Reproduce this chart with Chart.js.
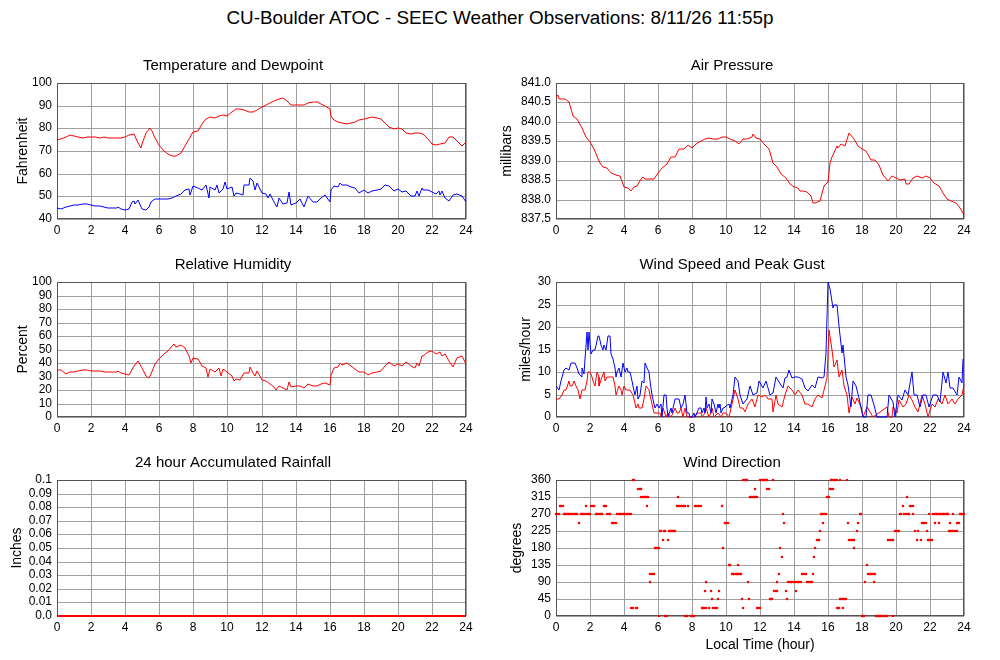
<!DOCTYPE html>
<html>
<head>
<meta charset="utf-8">
<script src="https://cdn.jsdelivr.net/npm/chart.js@4.4.1/dist/chart.umd.min.js"></script>
<style>
  body { margin: 0; background: #fff; }
  #page { position: relative; width: 1000px; height: 660px; font-family: "Liberation Sans", Arial, Helvetica, sans-serif; }
  #main-title { position: absolute; left: 0; top: 7px; width: 1000px; text-align: center; font-size: 18.85px; line-height: 22px; color: #000; }
  .panel { position: absolute; width: 500px; }
</style>
</head>
<body>
<div id="page">
  <div id="main-title">CU-Boulder ATOC - SEEC Weather Observations: 8/11/26 11:55p</div>
  <div class="panel" style="left:0;top:53px;height:192px;"><canvas id="c-temp"></canvas></div>
  <div class="panel" style="left:500px;top:53px;height:192px;"><canvas id="c-pres"></canvas></div>
  <div class="panel" style="left:0;top:252px;height:191px;"><canvas id="c-rh"></canvas></div>
  <div class="panel" style="left:500px;top:252px;height:191px;"><canvas id="c-wind"></canvas></div>
  <div class="panel" style="left:0;top:450px;height:192px;"><canvas id="c-rain"></canvas></div>
  <div class="panel" style="left:500px;top:450px;height:210px;"><canvas id="c-dir"></canvas></div>
</div>

<script>
/* ── 資料（時間：小時，讀自原圖）────────────────────────── */
const hourTicks = [0, 2, 4, 6, 8, 10, 12, 14, 16, 18, 20, 22, 24];

const tempTicks = [40, 50, 60, 70, 80, 90, 100];
const presTicks = [837.5, 838, 838.5, 839, 839.5, 840, 840.5, 841];
const rhTicks   = [0, 10, 20, 30, 40, 50, 60, 70, 80, 90, 100];
const windTicks = [0, 5, 10, 15, 20, 25, 30];
const rainTicks = [0, 0.01, 0.02, 0.03, 0.04, 0.05, 0.06, 0.07, 0.08, 0.09, 0.1];
const dirTicks  = [0, 45, 90, 135, 180, 225, 270, 315, 360];

// 溫度 [hour, °F]
const temperature = [[0,74.7],[0.25,75.1],[0.5,76.3],[0.75,76.9],[1,76.6],[1.25,76.1],[1.5,75.9],[1.75,76.1],[2,76.3],[2.25,76.1],[2.5,75.7],[2.75,76],[3,75.9],[3.25,75.7],[3.5,75.6],[3.75,75.6],[4,76],[4.25,76.9],[4.5,77.3],[4.75,73.6],[4.9,71.4],[5,72.9],[5.25,78],[5.45,80.1],[5.6,78.8],[5.75,75.9],[6,72.6],[6.25,70.2],[6.5,68.7],[6.75,67.7],[7,67.7],[7.25,68.9],[7.5,72.1],[7.75,75.4],[8,78.4],[8.25,78.8],[8.5,81.8],[8.75,84],[9,85],[9.25,84.7],[9.5,85.5],[9.75,85.9],[10,85.3],[10.25,87.3],[10.5,88.7],[10.75,88.4],[11,88],[11.25,87.4],[11.5,87.3],[11.75,88],[12,89.2],[12.25,90.2],[12.5,91.1],[12.75,92.1],[13,92.9],[13.25,93.2],[13.5,92.1],[13.75,90.2],[14,90.5],[14.25,90.5],[14.5,90.5],[14.75,91],[15,91.6],[15.25,91.4],[15.5,90.7],[15.75,89.9],[16,88.7],[16.1,85.5],[16.25,83.7],[16.5,82.8],[16.75,82.2],[17,81.9],[17.25,82.2],[17.5,82.8],[17.75,83.7],[18,84.3],[18.25,84.4],[18.5,85],[18.75,84.7],[19,84],[19.25,82.5],[19.5,80.7],[19.75,79.9],[20,80.3],[20.25,79.6],[20.5,78.1],[20.75,77.3],[21,78.1],[21.25,77.8],[21.5,77.6],[21.75,75.1],[22,72.9],[22.25,72.6],[22.5,73.3],[22.75,73.6],[23,76],[23.25,76.3],[23.5,74.4],[23.75,72.1],[24,73.9]];

// 露點 [hour, °F]
const dewpoint = [[0,44.7],[0.25,44.3],[0.5,45.2],[0.75,45.8],[1,46],[1.25,46.1],[1.5,46.5],[1.75,46.5],[2,46.1],[2.25,45.8],[2.5,45.6],[2.75,45.2],[3,44.9],[3.25,44.7],[3.5,44.9],[3.6,45.5],[3.75,44.4],[4,43.9],[4.25,44.3],[4.4,47.7],[4.5,48.1],[4.6,46.5],[4.75,48.4],[5,44.3],[5.25,44],[5.4,45.5],[5.5,47.7],[5.75,48.8],[6,48.8],[6.25,49],[6.5,48.7],[6.75,49.4],[7,50],[7.25,51.2],[7.5,52.7],[7.75,53.3],[7.8,50.8],[8,54.4],[8.25,53.7],[8.5,53],[8.75,54.8],[8.9,49.3],[9,54.1],[9.25,53],[9.4,55.2],[9.5,51.5],[9.75,53.3],[9.85,56.3],[10,53.3],[10.25,53.9],[10.4,50],[10.5,51.5],[10.75,51.2],[10.9,50.8],[11,54.8],[11.25,55.2],[11.35,58.1],[11.5,56.6],[11.6,53],[11.75,55.9],[12,51.5],[12.25,51.2],[12.4,49.3],[12.5,51.2],[12.75,47.7],[12.9,45.5],[13,49.3],[13.25,46.7],[13.5,47],[13.6,51.7],[13.75,46.2],[14,47],[14.25,48.8],[14.5,45.5],[14.75,50],[15,47.3],[15.25,47.7],[15.5,49.3],[15.75,50.4],[16,47.7],[16.1,53],[16.25,54.4],[16.5,54.1],[16.6,55.9],[16.75,54.8],[17,55.2],[17.25,54.1],[17.5,53.7],[17.75,51.5],[18,52.6],[18.25,51.5],[18.5,52.3],[18.75,53],[19,53.3],[19.25,54.8],[19.5,54.4],[19.75,52.2],[20,53.3],[20.25,51.8],[20.5,52.3],[20.75,50],[21,50],[21.1,52.2],[21.25,50],[21.4,53.7],[21.5,53],[21.75,52.7],[22,51.8],[22.25,51.2],[22.4,52.3],[22.5,50.5],[22.6,52.2],[22.75,49.3],[23,48.1],[23.25,50.5],[23.5,51.2],[23.75,50],[24,47.7]];

// 氣壓 [hour, mb]
const pressure = [[0,840.63],[0.1,840.69],[0.2,840.6],[0.5,840.6],[0.75,840.5],[1,840.15],[1.25,840.07],[1.5,839.85],[1.75,839.62],[2,839.47],[2.25,839.31],[2.5,839.0],[2.6,838.95],[2.75,838.84],[3,838.82],[3.25,838.69],[3.5,838.62],[3.75,838.6],[4,838.33],[4.25,838.3],[4.4,838.22],[4.6,838.33],[4.75,838.36],[5,838.52],[5.1,838.59],[5.25,838.52],[5.5,838.52],[5.75,838.52],[6,838.69],[6.25,838.82],[6.5,838.92],[6.75,839.09],[7,839.1],[7.25,839.29],[7.5,839.31],[7.75,839.41],[8,839.34],[8.25,839.42],[8.5,839.51],[8.75,839.55],[9,839.59],[9.25,839.57],[9.5,839.57],[9.75,839.61],[10,839.61],[10.25,839.55],[10.5,839.51],[10.75,839.44],[11,839.57],[11.25,839.55],[11.5,839.62],[11.6,839.68],[11.75,839.59],[12,839.57],[12.25,839.42],[12.5,839.29],[12.75,838.95],[13,838.84],[13.25,838.65],[13.5,838.56],[13.75,838.41],[14,838.33],[14.25,838.3],[14.35,838.22],[14.5,838.22],[14.75,838.19],[15,838.09],[15.1,837.91],[15.25,837.91],[15.5,837.96],[15.75,838.34],[16,838.45],[16.1,838.95],[16.25,839.1],[16.5,839.38],[16.6,839.33],[16.75,839.42],[17,839.38],[17.25,839.71],[17.5,839.55],[17.75,839.38],[18,839.31],[18.25,839.25],[18.5,839.03],[18.75,839.01],[19,838.9],[19.25,838.62],[19.5,838.47],[19.75,838.6],[20,838.56],[20.25,838.5],[20.5,838.52],[20.6,838.41],[20.75,838.41],[21,838.56],[21.25,838.6],[21.5,838.56],[21.75,838.6],[22,838.56],[22.25,838.43],[22.5,838.34],[22.75,838.17],[23,838.02],[23.25,837.96],[23.5,837.9],[23.75,837.78],[24,837.61]];

// 相對濕度 [hour, %]
const humidity = [[0,34.7],[0.25,34.7],[0.5,32.2],[0.75,33.2],[1,33.4],[1.25,33.9],[1.5,34.7],[1.75,34.7],[2,34.2],[2.25,34.2],[2.5,34.2],[2.75,33.4],[3,33.4],[3.25,33.4],[3.5,33.4],[3.6,34.2],[3.75,32.7],[4,31.7],[4.25,31.2],[4.5,37.6],[4.75,41.8],[5,36.4],[5.25,30.7],[5.4,29],[5.5,31.9],[5.75,38.9],[6,42.6],[6.25,46.3],[6.5,48.8],[6.75,52.5],[6.85,54.2],[7,52],[7.25,53.7],[7.5,51.2],[7.75,45.5],[7.85,40.1],[8,43.8],[8.25,42.6],[8.5,37.6],[8.75,36.4],[8.85,29.7],[9,35.6],[9.25,33.2],[9.5,36.4],[9.6,30.7],[9.75,35.6],[10,33.2],[10.25,30.2],[10.4,26.5],[10.5,28.2],[10.75,27.7],[11,32.7],[11.25,32.7],[11.35,37.1],[11.5,32.7],[11.6,30.2],[11.75,33.9],[12,27.7],[12.25,27],[12.5,24.8],[12.75,22.3],[12.85,19.8],[13,22.8],[13.25,21.5],[13.5,20.3],[13.6,25.7],[13.75,22.3],[14,22.8],[14.25,23.3],[14.5,21.8],[14.75,24.8],[15,22.8],[15.25,23.3],[15.5,24.8],[15.75,25.2],[16,24],[16.1,31.4],[16.25,36.4],[16.5,37.1],[16.6,40.1],[16.75,38.6],[17,40.1],[17.25,37.6],[17.5,35.9],[17.75,33.2],[18,33.2],[18.25,31.4],[18.5,32.7],[18.75,33.2],[19,33.9],[19.25,37.6],[19.5,40.6],[19.75,38.1],[20,39.4],[20.25,37.6],[20.5,40.6],[20.75,37.6],[21,36.4],[21.1,40.1],[21.25,38.1],[21.4,45],[21.5,45.5],[21.75,48],[22,48.8],[22.25,46.3],[22.5,48],[22.6,45],[22.75,47],[23,41.3],[23.25,37.1],[23.5,43.8],[23.75,45.5],[24,39.6]];

// 風速 [hour, mph]
const windSpeed = [[0,4],[0.2,4],[0.35,5],[0.45,6],[0.6,6],[0.75,8],[0.85,7],[0.95,7],[1.05,8],[1.15,7],[1.3,6],[1.4,4],[1.5,6],[1.7,6],[1.8,8],[1.9,10],[2.0,10],[2.1,9],[2.2,8],[2.3,7],[2.4,10],[2.5,9],[2.55,7],[2.7,9],[2.8,10],[2.9,8],[3.0,9],[3.1,9],[3.25,9],[3.35,9],[3.45,7],[3.55,5],[3.7,7],[3.8,6],[3.9,5],[4.0,7],[4.1,6],[4.25,6],[4.35,6],[4.5,5],[4.6,4],[4.7,2],[4.8,3],[4.9,2],[5.05,2],[5.15,4],[5.3,7],[5.45,6],[5.55,5],[5.65,3],[5.75,1],[5.85,1],[6.0,1],[6.1,1],[6.2,0],[6.3,2],[6.45,0],[6.6,1],[6.75,0],[6.9,1],[7.0,2],[7.1,1],[7.25,1],[7.35,2],[7.45,0],[7.6,2],[7.7,0],[8.0,0],[8.2,0],[8.3,1],[8.5,1],[8.6,0],[8.75,1],[8.85,2],[9.0,0],[9.1,1],[9.2,2],[9.3,0],[9.5,1],[9.7,0],[9.85,1],[10.0,1],[10.2,0],[10.35,3],[10.55,6],[10.7,4],[10.85,2],[11.02,1.9],[11.12,1.2],[11.31,3],[11.51,4],[11.71,2.3],[11.9,5],[12.1,4.5],[12.29,5],[12.49,4],[12.69,4],[12.78,1.2],[12.94,5],[13.08,3],[13.27,2.3],[13.47,5],[13.67,6.9],[13.86,6],[14.06,5],[14.25,5.9],[14.45,5],[14.65,3],[14.84,3],[15.04,2.3],[15.24,4],[15.43,5],[15.63,4.2],[15.82,6.8],[15.92,8.6],[16.08,19.3],[16.22,15],[16.37,11.2],[16.51,12.7],[16.67,9],[16.8,10.5],[16.94,6.8],[17.1,5],[17.25,0.8],[17.39,4.5],[17.59,3],[17.73,4.2],[17.92,2.3],[18.08,0],[18.27,2.3],[18.47,1.2],[18.67,0],[19.45,2.3],[19.61,0],[19.75,0],[19.84,2.3],[20.04,0.8],[20.2,3.8],[20.39,2.3],[20.59,3],[20.78,5],[20.92,3.8],[21.12,2.3],[21.31,1.2],[21.51,5],[21.71,3],[21.9,0],[22.1,3],[22.29,2.3],[22.49,4],[22.69,3],[22.88,5],[23.08,3],[23.27,4],[23.47,3],[23.67,4],[23.86,5],[24,7.1]];

// 陣風 [hour, mph]
const peakGust = [[0,7],[0.15,6],[0.3,8],[0.45,10.5],[0.6,11],[0.75,10.5],[0.9,12],[1.1,12],[1.25,11],[1.35,9.5],[1.5,9],[1.55,11],[1.65,9.5],[1.7,13],[1.8,19],[1.88,15],[1.95,19],[2.05,14],[2.15,15],[2.3,15],[2.45,18],[2.55,18],[2.65,16],[2.75,15],[2.85,16],[2.95,15],[3.05,18],[3.15,18],[3.25,14],[3.35,13],[3.45,11],[3.5,9],[3.6,10],[3.7,11],[3.8,9],[3.95,12],[4.05,10],[4.15,11],[4.25,10],[4.35,10],[4.45,8],[4.55,7],[4.65,5],[4.75,7],[4.85,4],[4.95,5],[5.05,8],[5.15,7.5],[5.25,12],[5.35,11],[5.45,10],[5.55,8],[5.65,5],[5.75,3],[5.85,2],[5.95,3],[6.05,2],[6.15,3],[6.25,0],[6.35,5],[6.45,5],[6.55,2],[6.6,0],[6.75,2],[6.85,1],[7.0,4],[7.1,4],[7.25,4],[7.35,2],[7.45,3],[7.6,5],[7.7,1],[7.8,1],[7.9,0],[8.0,0],[8.1,1],[8.2,0],[8.4,2],[8.5,2],[8.6,1],[8.7,2],[8.75,1],[8.85,4.5],[8.9,2],[9.0,3],[9.1,1],[9.2,4],[9.3,3],[9.4,1],[9.5,3],[9.6,2],[9.65,3],[9.7,1],[9.8,2],[9.9,2],[10.0,2.5],[10.15,3],[10.25,2],[10.4,5],[10.55,9],[10.7,8],[10.85,5],[11.02,3],[11.22,4],[11.41,7],[11.61,5],[11.8,5.3],[11.96,8],[12.16,6.4],[12.35,8],[12.59,5],[12.78,5.3],[12.94,9],[13.14,7.7],[13.33,6.4],[13.47,8.6],[13.57,9],[13.73,10.4],[13.86,8.6],[14.06,9],[14.25,9],[14.45,8.4],[14.65,6.4],[14.84,5.7],[15.04,7.1],[15.24,6.4],[15.43,9],[15.63,8.6],[15.76,9],[15.88,14.2],[16.02,30],[16.12,28.4],[16.27,24.3],[16.37,25],[16.51,25],[16.67,20.2],[16.8,14.2],[16.9,16.1],[17.04,9],[17.2,7.1],[17.35,2.3],[17.49,7.9],[17.65,6.8],[17.84,4.2],[18.04,0],[18.24,0],[18.33,5],[18.51,5],[18.71,2.7],[18.86,0],[19.45,0],[19.61,5],[19.8,3.4],[19.94,0],[20.14,5],[20.33,3.8],[20.53,6],[20.73,5],[20.92,10],[21.06,5],[21.22,5],[21.41,2.3],[21.57,5],[21.76,5],[21.96,2.3],[22.16,5],[22.39,5],[22.59,3.4],[22.75,10],[22.92,7.5],[23.04,10],[23.18,6.4],[23.37,6.4],[23.57,5],[23.73,9],[23.86,7.5],[23.96,13]];

// 累積雨量 [hour, inches]
const rainfall = [[0,0],[6,0],[12,0],[18,0],[24,0]];

// 風向：各方位出現的時間點（小時）
const dirDegrees = [0, 22.5, 45, 67.5, 90, 112.5, 135, 157.5, 180, 202.5, 225, 247.5, 270, 292.5, 315, 337.5, 360];
const dir000 = [6.06,6.42,6.5,7.6,7.68,7.92,8.0,8.08,8.14,17.98,18.06,18.12,18.82,18.9,18.98,19.06,19.14,19.22,19.3,19.38,19.46,19.84];
const dir022 = [4.42,4.5,4.68,4.76,8.57,8.65,8.73,8.81,9.0,9.25,9.33,9.41,9.49,11.02,11.84,11.92,12.0,16.51,16.59,16.67,16.86];
const dir045 = [9.2,9.5,10.96,11.35,12.59,12.67,12.73,13.61,16.71,16.79,16.87,16.95,17.04];
const dir067 = [8.76,9.1,9.59,12.84,12.92,13.0,13.53,14.1];
const dir090 = [5.53,8.82,11.27,13.02,13.67,13.75,13.83,13.91,13.99,14.07,14.15,14.23,14.31,14.39,14.77,14.85,14.93,15.01,15.08,18.18,18.71];
const dir112 = [5.55,5.63,5.71,5.79,10.33,10.41,10.49,10.57,10.65,10.73,10.81,10.88,13.12,14.47,14.55,14.63,14.71,15.1,18.37,18.45,18.53,18.61,18.69,18.77];
const dir135 = [10.18,10.26,10.69,18.27];
const dir157 = [13.27,15.18];
const dir180 = [5.8,5.88,5.96,6.04,9.84,13.18,15.24,17.53];
const dir202 = [6.27,6.6,15.33,15.41,15.49,17.24,17.32,17.4,17.48,17.55,19.55,19.63,19.71,19.8,21.22,21.45,21.86,21.94,22.02,22.14];
const dir225 = [6.12,6.2,6.36,6.44,6.62,6.7,6.78,6.86,6.94,7.02,15.53,17.69,19.94,20.02,20.1,20.18,21.12,21.31,21.8,23.12,23.2,23.28,23.36,23.45,23.57];
const dir247 = [1.37,3.27,3.35,3.43,3.51,9.94,10.02,10.1,13.43,15.69,17.2,17.78,21.51,21.59,21.67,21.76,22.29,22.55,23.18,23.6,23.68];
const dir270 = [0,0.08,0.16,0.45,0.53,0.61,0.69,0.77,0.85,0.93,1.01,1.09,1.17,1.25,1.45,1.53,1.61,1.69,1.85,1.93,2.01,2.33,2.41,2.49,2.57,2.65,2.73,3.01,3.09,3.17,3.6,3.68,3.76,3.84,3.92,4.0,4.08,4.16,4.24,4.32,4.4,13.37,15.57,15.65,15.73,15.81,15.9,17.88,17.96,20.24,20.32,20.45,20.6,20.68,20.76,21.02,21.94,22.2,22.28,22.36,22.44,22.52,22.6,22.68,22.76,22.84,22.92,23.0,23.08,23.37,23.76,23.84,23.92,24.0];
const dir292 = [0.24,0.32,0.4,1.76,2.08,2.16,2.24,2.8,2.88,2.96,5.35,7.1,7.18,7.26,7.34,7.42,7.5,7.58,7.78,8.18,8.26,8.34,8.42,8.5,9.75,20.43,20.82,20.9,20.98];
const dir315 = [5.02,5.1,5.18,5.26,5.33,5.43,7.2,11.4,11.48,11.56,11.64,11.72,11.8,15.92,16.0,16.08,20.63];
const dir337 = [4.84,4.92,5.0,11.7,12.43,12.51,16.12,16.2,16.3];
const dir360 = [4.53,4.61,11.02,11.1,11.18,11.26,12.0,12.08,12.16,12.24,12.32,12.4,12.79,16.18,16.26,16.34,16.42,16.5,16.7,17.1];
const dirHours = [dir000, dir022, dir045, dir067, dir090, dir112, dir135, dir157, dir180, dir202, dir225, dir247, dir270, dir292, dir315, dir337, dir360];

/* ── 樣式 ─────────────────────────────────────────────── */
const FONT = '"Liberation Sans", Arial, Helvetica, sans-serif';
const RED  = '#ff0000';
const BLUE = '#0000ff';
const GRID = '#a0a0a0';

Chart.defaults.font.family = FONT;
Chart.defaults.color = '#000';

/* 繪圖區外框 */
const framePlugin = {
  id: 'frame',
  beforeDatasetsDraw(chart) {
    const a = chart.chartArea;
    const ctx = chart.ctx;
    ctx.save();
    ctx.strokeStyle = '#555';
    ctx.lineWidth = 1;
    const l = Math.round(a.left) + 0.5, t = Math.round(a.top) + 0.5;
    const r = Math.round(a.right) - 0.5, b = Math.round(a.bottom) - 0.5;
    ctx.strokeRect(l, t, r - l, b - t);
    ctx.restore();
  }
};

function pts(list) {
  return list.map(p => ({ x: p[0], y: p[1] }));
}

function lineSet(list, color) {
  return {
    data: pts(list),
    borderColor: color,
    backgroundColor: color,
    borderWidth: 1,
    pointRadius: 0,
    tension: 0,
    clip: false
  };
}

/* 建立單一面板 */
function panel(id, cfg) {
  const right = cfg.col === 1;
  const yTicks = cfg.yTicks;
  return new Chart(document.getElementById(id), {
    type: cfg.type || 'line',
    data: { datasets: cfg.datasets },
    options: {
      responsive: true,
      maintainAspectRatio: false,
      animation: false,
      events: [],
      layout: { padding: { left: 0, right: right ? 36 : 34, top: 0, bottom: cfg.xTitle ? 3 : 4 } },
      plugins: {
        legend: { display: false },
        tooltip: { enabled: false },
        title: {
          display: true,
          text: cfg.title,
          color: '#000',
          font: { size: 15, weight: 'normal' },
          padding: { top: 4, bottom: 8 }
        }
      },
      scales: {
        x: {
          type: 'linear', min: 0, max: 24, alignToPixels: true,
          grid: { color: GRID, drawTicks: false },
          border: { display: false },
          ticks: { font: { size: 12 }, padding: 4, maxRotation: 0, autoSkip: false },
          afterBuildTicks: s => { s.ticks = hourTicks.map(v => ({ value: v })); },
          title: cfg.xTitle
            ? { display: true, text: cfg.xTitle, font: { size: 14, lineHeight: 1 }, padding: { top: 0, bottom: 5 } }
            : { display: false },
          afterFit: s => { s.height = cfg.xTitle ? 41 : 22; }
        },
        y: {
          type: 'linear', min: yTicks[0], max: yTicks[yTicks.length - 1], alignToPixels: true,
          grid: { color: GRID, drawTicks: false },
          border: { display: false },
          ticks: { font: { size: 12 }, padding: 5, autoSkip: false, callback: cfg.fmt || (v => String(v)) },
          afterBuildTicks: s => { s.ticks = yTicks.map(v => ({ value: v })); },
          title: {
            display: true, text: cfg.yTitle,
            font: { size: 14, lineHeight: 1 },
            padding: { top: cfg.yPad, bottom: 0 }
          },
          afterFit: s => { s.width = right ? 56 : 57; }
        }
      }
    },
    plugins: [framePlugin]
  });
}

/* ── 六個面板 ─────────────────────────────────────────── */
panel('c-temp', {
  col: 0, title: 'Temperature and Dewpoint', yTitle: 'Fahrenheit', yPad: 16,
  yTicks: tempTicks,
  datasets: [lineSet(temperature, RED), lineSet(dewpoint, BLUE)]
});

panel('c-pres', {
  col: 1, title: 'Air Pressure', yTitle: 'millibars', yPad: 0,
  yTicks: presTicks, fmt: v => v.toFixed(1),
  datasets: [lineSet(pressure, RED)]
});

panel('c-rh', {
  col: 0, title: 'Relative Humidity', yTitle: 'Percent', yPad: 16,
  yTicks: rhTicks,
  datasets: [lineSet(humidity, RED)]
});

panel('c-wind', {
  col: 1, title: 'Wind Speed and Peak Gust', yTitle: 'miles/hour', yPad: 19,
  yTicks: windTicks,
  datasets: [lineSet(peakGust, BLUE), lineSet(windSpeed, RED)]
});

panel('c-rain', {
  col: 0, title: '24 hour Accumulated Rainfall', yTitle: 'Inches', yPad: 10,
  yTicks: rainTicks,
  fmt: v => {
    const c = Math.round(v * 100);
    if (c === 0) return '0.0';
    if (c === 10) return '0.1';
    return (c / 100).toFixed(2);
  },
  datasets: [Object.assign(lineSet(rainfall, RED), { borderWidth: 2 })]
});

const dirPoints = [];
dirHours.forEach((hours, i) => {
  hours.forEach(h => dirPoints.push({ x: h, y: dirDegrees[i] }));
});

panel('c-dir', {
  col: 1, type: 'scatter', title: 'Wind Direction', yTitle: 'degrees', yPad: 10,
  xTitle: 'Local Time (hour)',
  yTicks: dirTicks,
  datasets: [{
    data: dirPoints,
    showLine: false,
    pointStyle: 'rect',
    pointRadius: 1.6,
    pointBorderWidth: 0,
    backgroundColor: RED,
    borderColor: RED,
    clip: false
  }]
});
</script>
</body>
</html>
